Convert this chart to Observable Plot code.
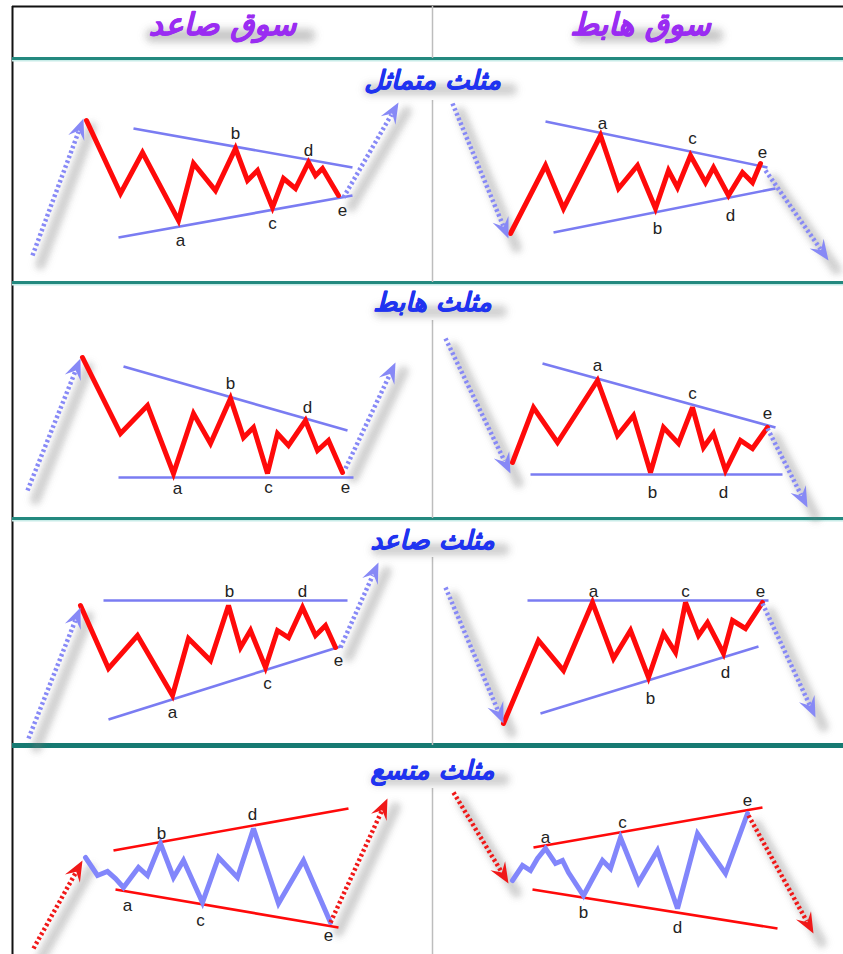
<!DOCTYPE html>
<html><head><meta charset="utf-8">
<script src="https://cdn.jsdelivr.net/npm/d3@7"></script>
<script src="https://cdn.jsdelivr.net/npm/@observablehq/plot@0.6"></script>
<style>html,body{margin:0;padding:0;background:#fff}</style>
</head><body><div id="chart"></div>
<script>
// ---- Text ----
const headers = [{t:"سوق صاعد", x:222, y:25, w:160}, {t:"سوق هابط", x:640, y:25, w:140}];
const rowTitles = [{t:"مثلث متماثل", y:80, w:145}, {t:"مثلث هابط", y:302, w:125}, {t:"مثلث صاعد", y:540, w:130}, {t:"مثلث متسع", y:770, w:130}];

// ---- Grid ----
const frameTop = [6];
const frameLeft = [12];
const rowLines = [58, 282, 518];
const thickRowLines = [745];
const dividerX = 432;
const dividerSegs = [[6,58],[100,282],[320,518],[557,745],[788,954]];

// ---- Symmetrical triangle (row 1) ----
const wave1L = [[86,120],[120,193],[142,152],[178,220],[193,163],[215,190],[235,148],[247,180],[257,170],[272,207],[283,178],[295,188],[308,162],[315,175],[322,168],[338,195]];
const trend1L = [[133,128,352,167],[118,237,352,195]];
const labels1L = [["b",235,133],["d",308,150],["a",180,240],["c",272,223],["e",342,210]];
const arrows1L = [[32,255,83,118],[343,197,398,102]];

const wave1R = [[510,233],[545,165],[563,208],[600,135],[618,188],[637,165],[655,208],[668,170],[677,187],[690,155],[705,182],[713,167],[728,195],[742,172],[752,182],[760,163]];
const trend1R = [[545,121,767,167],[553,232,775,188]];
const labels1R = [["a",602,123],["c",692,138],["e",762,152],["b",657,228],["d",730,215]];
const arrows1R = [[452,103,508,238],[765,170,828,260]];

// ---- Descending triangle (row 2) ----
const wave2L = [[82,357],[120,433],[147,405],[173,473],[193,413],[210,443],[230,398],[243,437],[253,427],[267,473],[277,433],[288,445],[305,420],[317,450],[328,440],[342,472]];
const trend2L = [[123,366,347,430],[118,477,353,477]];
const labels2L = [["b",230,383],["d",307,407],["a",177,488],["c",268,487],["e",345,487]];
const arrows2L = [[27,490,80,358],[345,468,395,362]];

const wave2R = [[512,462],[533,407],[557,442],[597,380],[617,435],[633,415],[650,472],[663,427],[678,443],[692,407],[703,447],[713,433],[725,470],[740,440],[752,448],[767,427]];
const trend2R = [[542,363,775,427],[530,474,782,474]];
const labels2R = [["a",597,365],["c",692,393],["e",767,413],["b",652,492],["d",723,492]];
const arrows2R = [[445,338,510,473],[767,428,807,507]];

// ---- Ascending triangle (row 3) ----
const wave3L = [[80,605],[108,668],[137,635],[172,695],[188,638],[210,660],[228,605],[240,647],[250,630],[265,667],[277,630],[288,637],[302,607],[315,635],[325,625],[335,647]];
const trend3L = [[103,600,347,600],[108,719,340,646]];
const labels3L = [["b",229,591],["d",302,591],["a",172,712],["c",267,683],["e",338,660]];
const arrows3L = [[28,738,80,607],[340,647,378,562]];

const wave3R = [[503,723],[538,640],[563,670],[592,602],[613,658],[630,630],[648,677],[663,633],[675,652],[685,602],[698,635],[707,622],[723,653],[732,620],[745,628],[762,602]];
const trend3R = [[527,600,768,600],[540,713,758,646]];
const labels3R = [["a",593,591],["c",685,591],["e",760,591],["b",650,698],["d",725,672]];
const arrows3R = [[445,587,503,723],[762,603,815,717]];

// ---- Expanding triangle (row 4) ----
const wave4L = [[85,857],[97,875],[107,871],[115,878],[123,887],[138,867],[147,875],[160,843],[173,877],[183,860],[202,902],[218,857],[237,877],[253,828],[278,903],[303,860],[330,922]];
const trend4L = [[113,850,348,808],[115,889,338,927]];
const labels4L = [["b",161,833],["d",252,814],["a",127,905],["c",200,920],["e",328,935]];
const arrows4L = [[33,948,82,860],[330,922,387,798]];

const wave4R = [[512,880],[522,865],[530,870],[537,858],[545,848],[555,863],[562,860],[568,872],[583,895],[602,860],[610,868],[620,837],[638,882],[657,850],[677,908],[697,833],[725,873],[747,813]];
const trend4R = [[533,847,762,807],[532,889,777,928]];
const labels4R = [["a",545,837],["c",622,822],["e",747,800],["b",583,912],["d",677,927]];
const arrows4R = [[453,792,508,883],[748,815,813,933]];

const panels = [
  {wave:wave1L, trend:trend1L, labels:labels1L, arrows:arrows1L, expanding:false},
  {wave:wave1R, trend:trend1R, labels:labels1R, arrows:arrows1R, expanding:false},
  {wave:wave2L, trend:trend2L, labels:labels2L, arrows:arrows2L, expanding:false},
  {wave:wave2R, trend:trend2R, labels:labels2R, arrows:arrows2R, expanding:false},
  {wave:wave3L, trend:trend3L, labels:labels3L, arrows:arrows3L, expanding:false},
  {wave:wave3R, trend:trend3R, labels:labels3R, arrows:arrows3R, expanding:false},
  {wave:wave4L, trend:trend4L, labels:labels4L, arrows:arrows4L, expanding:true},
  {wave:wave4R, trend:trend4R, labels:labels4R, arrows:arrows4R, expanding:true}
];

// ---- Styles ----
const RED = "#ff0a0a";
const BLUE_LINE = "#7a7cf2";
const BLUE_WAVE = "#8286fb";
const BLUE_ARROW = "#8789f6";
const TEAL = "#23897f";

const arrowHead = {
  draw(ctx, size) {
    const s = Math.sqrt(size / Math.PI);
    const L = 2.3 * s, w = 0.95 * s;
    ctx.moveTo(0, 0);
    ctx.lineTo(w, L);
    ctx.lineTo(0, L * 0.62);
    ctx.lineTo(-w, L);
    ctx.closePath();
  }
};

function arrowParts(arr) {
  return arr.map(([x1, y1, x2, y2]) => {
    const dx = x2 - x1, dy = y2 - y1, len = Math.hypot(dx, dy);
    const ux = dx / len, uy = dy / len;
    return {x1, y1, x2, y2, sx2: x2 - ux * 14, sy2: y2 - uy * 14,
            angle: Math.atan2(dx, -dy) * 180 / Math.PI};
  });
}

const marks = [];

// grid
marks.push(Plot.ruleY(frameTop, {x1: 12, x2: 843, stroke: "#111", strokeWidth: 2}));
marks.push(Plot.ruleX(frameLeft, {y1: 6, y2: 954, stroke: "#111", strokeWidth: 2}));
marks.push(Plot.ruleY(rowLines, {x1: 12, x2: 843, y: d => d + 2, stroke: "#c8ece8", strokeWidth: 2}));
marks.push(Plot.ruleY(rowLines, {x1: 12, x2: 843, stroke: TEAL, strokeWidth: 3}));
marks.push(Plot.ruleY(thickRowLines, {x1: 12, x2: 843, stroke: "#167a72", strokeWidth: 5}));
marks.push(Plot.ruleX(dividerSegs, {x: () => dividerX, y1: d => d[0], y2: d => d[1], stroke: "#bdbdbd", strokeWidth: 1.5}));

// soft shadows built from layered translucent strokes
const layers = [[18, 0.07], [13, 0.09], [8, 0.11], [4, 0.12]];
for (const [sw, op] of layers) {
  marks.push(Plot.link(headers, {x1: d => d.x - d.w / 2 + 10, x2: d => d.x + d.w / 2 + 6, y1: d => d.y + 10, y2: d => d.y + 10, stroke: "#666", strokeWidth: sw * 1.1, strokeOpacity: op * 1.2, strokeLinecap: "round", imageFilter: "blur(3px)"}));
  marks.push(Plot.link(rowTitles, {x1: d => dividerX - d.w / 2 + 10, x2: d => dividerX + d.w / 2 + 6, y1: d => d.y + 9, y2: d => d.y + 9, stroke: "#666", strokeWidth: sw, strokeOpacity: op, strokeLinecap: "round", imageFilter: "blur(3px)"}));
  for (const p of panels) {
    marks.push(Plot.link(arrowParts(p.arrows), {x1: "x1", y1: "y1", x2: "x2", y2: "y2", dx: 8, dy: 9, stroke: "#777", strokeWidth: sw * 0.8, strokeOpacity: op * 1.3, strokeLinecap: "round", imageFilter: "blur(3px)"}));
  }
}

for (const p of panels) {
  const waveColor = p.expanding ? BLUE_WAVE : RED;
  const lineColor = p.expanding ? RED : BLUE_LINE;
  const arrowColor = p.expanding ? "#f01818" : BLUE_ARROW;
  const parts = arrowParts(p.arrows);
  marks.push(Plot.link(p.trend, {x1: d => d[0], y1: d => d[1], x2: d => d[2], y2: d => d[3], stroke: lineColor, strokeWidth: 2.6}));
  marks.push(Plot.line(p.wave, {x: d => d[0], y: d => d[1], stroke: waveColor, strokeWidth: 5, strokeLinejoin: "miter", strokeMiterlimit: 3, curve: "linear"}));
  marks.push(Plot.link(parts, {x1: "x1", y1: "y1", x2: "sx2", y2: "sy2", stroke: arrowColor, strokeWidth: 4.5, strokeDasharray: "2.6,2.6"}));
  marks.push(Plot.dot(parts, {x: "x2", y: "y2", rotate: "angle", symbol: arrowHead, r: 9, fill: arrowColor, stroke: "none"}));
  marks.push(Plot.text(p.labels, {x: d => d[1], y: d => d[2], text: d => d[0], fill: "#222", fontSize: 17, fontFamily: "Liberation Sans, Arial, sans-serif", lineAnchor: "middle"}));
}

// header and title texts
marks.push(Plot.text(headers, {x: "x", y: "y", text: "t", fill: "#9a2cf2", stroke: "#9a2cf2", strokeWidth: 0.6, fontSize: 31, fontWeight: "bold", fontStyle: "italic", fontFamily: "DejaVu Sans"}));
marks.push(Plot.text(rowTitles, {x: () => dividerX, y: "y", text: "t", fill: "#1f33f0", stroke: "#1f33f0", strokeWidth: 0.5, fontSize: 26, fontWeight: "bold", fontStyle: "italic", fontFamily: "DejaVu Sans"}));

const chart = Plot.plot({
  width: 843, height: 954,
  margin: 0,
  x: {domain: [0, 843], range: [0, 843], axis: null},
  y: {domain: [0, 954], range: [0, 954], axis: null},
  style: {background: "#fff", overflow: "visible"},
  marks
});

document.getElementById("chart").appendChild(chart);
</script>
</body></html>
